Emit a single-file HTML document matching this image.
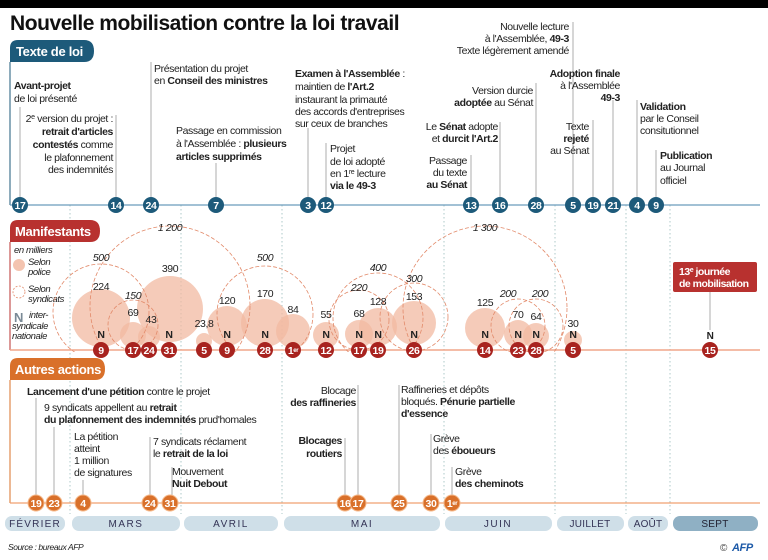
<!DOCTYPE html>
<html><head><meta charset="utf-8"><style>
html,body{margin:0;padding:0;background:#fff}
svg{display:block}
text{font-family:"Liberation Sans",sans-serif;font-size:10.5px;letter-spacing:-0.4px;fill:#222}
.b{font-weight:bold}
.i{font-style:italic}
.w{fill:#fff;font-weight:bold}
</style></head><body>
<svg width="768" height="560" viewBox="0 0 768 560" xmlns="http://www.w3.org/2000/svg">
<defs><clipPath id="cl"><rect x="0" y="215" width="768" height="137"/></clipPath></defs>
<rect x="0" y="0" width="768" height="8" fill="#000"/>
<text x="10" y="30" style="font-size:21px;font-weight:bold;fill:#111;letter-spacing:-0.45px">Nouvelle mobilisation contre la loi travail</text>

<g stroke="#9bb" stroke-width="0.8" stroke-dasharray="1.5,2.5">
<line x1="70" y1="205" x2="70" y2="514"/><line x1="181" y1="205" x2="181" y2="514"/><line x1="282" y1="205" x2="282" y2="514"/><line x1="444" y1="205" x2="444" y2="514"/><line x1="555" y1="205" x2="555" y2="514"/><line x1="626" y1="205" x2="626" y2="514"/><line x1="670" y1="205" x2="670" y2="514"/>
</g>

<path d="M10 62 L10 48 Q10 40 18 40 L84 40 Q94 40 94 51 Q94 62 84 62 Z" fill="#1d5a7a"/>
<text x="16" y="56" class="w" style="font-size:13px;letter-spacing:-0.3px">Texte de loi</text>
<line x1="10" y1="62" x2="10" y2="205" stroke="#1d5a7a" stroke-width="1"/>
<line x1="10" y1="205" x2="760" y2="205" stroke="#6a9cbc" stroke-width="1.2"/>
<g stroke="#999" stroke-width="0.8">
<line x1="20" y1="107" x2="20" y2="197"/><line x1="116" y1="115" x2="116" y2="197"/><line x1="151" y1="62" x2="151" y2="197"/><line x1="216" y1="163" x2="216" y2="197"/><line x1="308" y1="128" x2="308" y2="197"/><line x1="326" y1="143" x2="326" y2="197"/><line x1="573" y1="22" x2="573" y2="197"/><line x1="536" y1="83" x2="536" y2="197"/><line x1="613" y1="100" x2="613" y2="197"/><line x1="500" y1="122" x2="500" y2="197"/><line x1="471" y1="155" x2="471" y2="197"/><line x1="593" y1="120" x2="593" y2="197"/><line x1="637" y1="100" x2="637" y2="197"/><line x1="656" y1="150" x2="656" y2="197"/>
</g>
<text x="14" y="89" class="b">Avant-projet</text><text x="14" y="102">de loi présenté</text>
<g text-anchor="end">
<text x="113" y="122">2<tspan font-size="7" dy="-3">e</tspan><tspan dy="3"> version du projet :</tspan></text>
<text x="113" y="135" class="b">retrait d'articles</text>
<text x="113" y="148"><tspan class="b">contestés</tspan> comme</text>
<text x="113" y="161">le plafonnement</text>
<text x="113" y="173">des indemnités</text>
</g>
<text x="154" y="72">Présentation du projet</text><text x="154" y="84">en <tspan class="b">Conseil des ministres</tspan></text>
<text x="176" y="134">Passage en commission</text><text x="176" y="147">à l'Assemblée : <tspan class="b">plusieurs</tspan></text><text x="176" y="160" class="b">articles supprimés</text>
<text x="295" y="77"><tspan class="b">Examen à l'Assemblée</tspan> :</text><text x="295" y="90">maintien de <tspan class="b">l'Art.2</tspan></text><text x="295" y="103">instaurant la primauté</text><text x="295" y="115">des accords d'entreprises</text><text x="295" y="127">sur ceux de branches</text>
<text x="330" y="152">Projet</text><text x="330" y="165">de loi adopté</text><text x="330" y="177">en 1<tspan font-size="7" dy="-3">re</tspan><tspan dy="3"> lecture</tspan></text><text x="330" y="189" class="b">via le 49-3</text>
<g text-anchor="end">
<text x="569" y="30">Nouvelle lecture</text><text x="569" y="42">à l'Assemblée, <tspan class="b">49-3</tspan></text><text x="569" y="54">Texte légèrement amendé</text>
<text x="533" y="94">Version durcie</text><text x="533" y="106"><tspan class="b">adoptée</tspan> au Sénat</text>
<text x="620" y="77" class="b">Adoption finale</text><text x="620" y="89">à l'Assemblée</text><text x="620" y="101" class="b">49-3</text>
<text x="498" y="130">Le <tspan class="b">Sénat</tspan> adopte</text><text x="498" y="142">et <tspan class="b">durcit l'Art.2</tspan></text>
<text x="467" y="164">Passage</text><text x="467" y="176">du texte</text><text x="467" y="188" class="b">au Sénat</text>
<text x="589" y="130">Texte</text><text x="589" y="142" class="b">rejeté</text><text x="589" y="154">au Sénat</text>
</g>
<text x="640" y="110" class="b">Validation</text><text x="640" y="122">par le Conseil</text><text x="640" y="134">consitutionnel</text>
<text x="660" y="159" class="b">Publication</text><text x="660" y="171">au Journal</text><text x="660" y="184">officiel</text>
<g fill="#1d5a7a">
<circle cx="20" cy="205" r="8"/><circle cx="116" cy="205" r="8"/><circle cx="151" cy="205" r="8"/><circle cx="216" cy="205" r="8"/><circle cx="308" cy="205" r="8"/><circle cx="326" cy="205" r="8"/><circle cx="471" cy="205" r="8"/><circle cx="500" cy="205" r="8"/><circle cx="536" cy="205" r="8"/><circle cx="573" cy="205" r="8"/><circle cx="593" cy="205" r="8"/><circle cx="613" cy="205" r="8"/><circle cx="637" cy="205" r="8"/><circle cx="656" cy="205" r="8"/>
</g>
<g text-anchor="middle">
<text x="20" y="209" class="w" font-size="9">17</text><text x="116" y="209" class="w" font-size="9">14</text><text x="151" y="209" class="w" font-size="9">24</text><text x="216" y="209" class="w" font-size="9">7</text><text x="308" y="209" class="w" font-size="9">3</text><text x="326" y="209" class="w" font-size="9">12</text><text x="471" y="209" class="w" font-size="9">13</text><text x="500" y="209" class="w" font-size="9">16</text><text x="536" y="209" class="w" font-size="9">28</text><text x="573" y="209" class="w" font-size="9">5</text><text x="593" y="209" class="w" font-size="9">19</text><text x="613" y="209" class="w" font-size="9">21</text><text x="637" y="209" class="w" font-size="9">4</text><text x="656" y="209" class="w" font-size="9">9</text>
</g>

<path d="M10 242 L10 228 Q10 220 18 220 L90 220 Q100 220 100 231 Q100 242 90 242 Z" fill="#b8312f"/>
<text x="15" y="236" class="w" style="font-size:13px;letter-spacing:-0.3px">Manifestants</text>
<line x1="10" y1="242" x2="10" y2="350" stroke="#b8312f" stroke-width="1"/>
<line x1="10" y1="350" x2="760" y2="350" stroke="#f0a58a" stroke-width="1.5"/>
<text x="14" y="253" class="i" style="font-size:9.5px">en milliers</text>
<circle cx="19" cy="265" r="6" fill="#f4c4b0"/>
<text x="28" y="265" class="i" style="font-size:9.5px">Selon</text><text x="28" y="275" class="i" style="font-size:9.5px">police</text>
<circle cx="19" cy="292" r="6" fill="none" stroke="#e28a6a" stroke-width="0.8" stroke-dasharray="2,1.5"/>
<text x="28" y="292" class="i" style="font-size:9.5px">Selon</text><text x="28" y="302" class="i" style="font-size:9.5px">syndicats</text>
<text x="14" y="322" class="b" style="font-size:13px;fill:#7a8a96">N</text>
<text x="29" y="318" class="i" style="font-size:9.5px">inter-</text><text x="12" y="329" class="i" style="font-size:9.5px">syndicale</text><text x="12" y="339" class="i" style="font-size:9.5px">nationale</text>

<g clip-path="url(#cl)">
<g fill="#f2b9a2" fill-opacity="0.75">
<circle cx="101" cy="318" r="29"/><circle cx="133" cy="335" r="13"/><circle cx="149" cy="337" r="11"/><circle cx="170" cy="309" r="33"/><circle cx="204" cy="341" r="8"/><circle cx="227" cy="326" r="20"/><circle cx="265" cy="323" r="24"/><circle cx="293" cy="331" r="17"/><circle cx="326" cy="335" r="13"/><circle cx="359" cy="334" r="14"/><circle cx="378" cy="327" r="19"/><circle cx="414" cy="323" r="22"/><circle cx="485" cy="328" r="20"/><circle cx="518" cy="334" r="14"/><circle cx="536" cy="336" r="13"/><circle cx="573" cy="340" r="9"/>
</g>
<g fill="none" stroke="#e28a6a" stroke-width="0.8" stroke-dasharray="4,2">
<circle cx="101" cy="312" r="48"/><circle cx="133" cy="325" r="25"/><circle cx="170" cy="306" r="80"/><circle cx="265" cy="314" r="48"/><circle cx="359" cy="320" r="30"/><circle cx="378" cy="318" r="45"/><circle cx="414" cy="317" r="34"/><circle cx="485" cy="308" r="82"/><circle cx="518" cy="326" r="27"/><circle cx="536" cy="326" r="27"/>
</g>
</g>
<g text-anchor="middle">
<text x="101" y="290">224</text><text x="133" y="316">69</text><text x="151" y="323">43</text><text x="170" y="272">390</text><text x="204" y="327">23,8</text><text x="227" y="304">120</text><text x="265" y="297">170</text><text x="293" y="313">84</text><text x="326" y="318">55</text><text x="359" y="317">68</text><text x="378" y="305">128</text><text x="414" y="300">153</text><text x="485" y="306">125</text><text x="518" y="318">70</text><text x="536" y="320">64</text><text x="573" y="327">30</text>
</g>
<g text-anchor="middle">
<text x="101" y="261" class="i">500</text><text x="133" y="299" class="i">150</text><text x="170" y="231" class="i">1 200</text><text x="265" y="261" class="i">500</text><text x="359" y="291" class="i">220</text><text x="378" y="271" class="i">400</text><text x="414" y="282" class="i">300</text><text x="485" y="231" class="i">1 300</text><text x="508" y="297" class="i">200</text><text x="540" y="297" class="i">200</text>
</g>
<g text-anchor="middle" class="b" style="font-size:12px;fill:#7a8a96">
<text x="101" y="338">N</text><text x="169" y="338">N</text><text x="227" y="338">N</text><text x="265" y="338">N</text><text x="326" y="338">N</text><text x="359" y="338">N</text><text x="378" y="338">N</text><text x="414" y="338">N</text><text x="485" y="338">N</text><text x="518" y="338">N</text><text x="536" y="338">N</text><text x="573" y="338">N</text><text x="710" y="339" style="font-size:10px">N</text>
</g>
<rect x="673" y="262" width="84" height="30" rx="2" fill="#b8312f"/>
<text x="679" y="275" class="w" style="font-size:10.5px;letter-spacing:-0.5px">13<tspan font-size="7" dy="-3">e</tspan><tspan dy="3"> journée</tspan></text>
<text x="679" y="287" class="w" style="font-size:10.5px;letter-spacing:-0.5px">de mobilisation</text>
<line x1="710" y1="292" x2="710" y2="330" stroke="#999" stroke-width="0.8"/>
<g fill="#a8231f">
<circle cx="101" cy="350" r="8"/><circle cx="133" cy="350" r="8"/><circle cx="149" cy="350" r="8"/><circle cx="169" cy="350" r="8"/><circle cx="204" cy="350" r="8"/><circle cx="227" cy="350" r="8"/><circle cx="265" cy="350" r="8"/><circle cx="293" cy="350" r="8"/><circle cx="326" cy="350" r="8"/><circle cx="359" cy="350" r="8"/><circle cx="378" cy="350" r="8"/><circle cx="414" cy="350" r="8"/><circle cx="485" cy="350" r="8"/><circle cx="518" cy="350" r="8"/><circle cx="536" cy="350" r="8"/><circle cx="573" cy="350" r="8"/><circle cx="710" cy="350" r="8"/>
</g>
<g text-anchor="middle">
<text x="101" y="354" class="w" font-size="9">9</text><text x="133" y="354" class="w" font-size="9">17</text><text x="149" y="354" class="w" font-size="9">24</text><text x="169" y="354" class="w" font-size="9">31</text><text x="204" y="354" class="w" font-size="9">5</text><text x="227" y="354" class="w" font-size="9">9</text><text x="265" y="354" class="w" font-size="9">28</text><text x="293" y="354" class="w" font-size="9">1<tspan font-size="6" dy="-2">er</tspan></text><text x="326" y="354" class="w" font-size="9">12</text><text x="359" y="354" class="w" font-size="9">17</text><text x="378" y="354" class="w" font-size="9">19</text><text x="414" y="354" class="w" font-size="9">26</text><text x="485" y="354" class="w" font-size="9">14</text><text x="518" y="354" class="w" font-size="9">23</text><text x="536" y="354" class="w" font-size="9">28</text><text x="573" y="354" class="w" font-size="9">5</text><text x="710" y="354" class="w" font-size="9">15</text>
</g>

<path d="M10 380 L10 366 Q10 358 18 358 L95 358 Q105 358 105 369 Q105 380 95 380 Z" fill="#d9702a"/>
<text x="15" y="374" class="w" style="font-size:13px;letter-spacing:-0.3px">Autres actions</text>
<line x1="10" y1="380" x2="10" y2="503" stroke="#d9702a" stroke-width="1"/>
<line x1="10" y1="503" x2="760" y2="503" stroke="#f0a070" stroke-width="1.2"/>
<g stroke="#999" stroke-width="0.8">
<line x1="36" y1="398" x2="36" y2="495"/><line x1="54" y1="427" x2="54" y2="495"/><line x1="83" y1="480" x2="83" y2="495"/><line x1="150" y1="437" x2="150" y2="495"/><line x1="172" y1="467" x2="172" y2="495"/><line x1="358" y1="385" x2="358" y2="495"/><line x1="345" y1="438" x2="345" y2="495"/><line x1="399" y1="385" x2="399" y2="495"/><line x1="431" y1="434" x2="431" y2="495"/><line x1="452" y1="467" x2="452" y2="495"/>
</g>
<text x="27" y="395"><tspan class="b">Lancement d'une pétition</tspan> contre le projet</text>
<text x="44" y="411">9 syndicats appellent au <tspan class="b">retrait</tspan></text>
<text x="44" y="423"><tspan class="b">du plafonnement des indemnités</tspan> prud'homales</text>
<text x="74" y="440">La pétition</text><text x="74" y="452">atteint</text><text x="74" y="464">1 million</text><text x="74" y="476">de signatures</text>
<text x="153" y="445">7 syndicats réclament</text><text x="153" y="457">le <tspan class="b">retrait de la loi</tspan></text>
<text x="172" y="475">Mouvement</text><text x="172" y="487" class="b">Nuit Debout</text>
<g text-anchor="end">
<text x="356" y="394">Blocage</text><text x="356" y="406" class="b">des raffineries</text>
<text x="342" y="444" class="b">Blocages</text><text x="342" y="457" class="b">routiers</text>
</g>
<text x="401" y="393">Raffineries et dépôts</text><text x="401" y="405">bloqués. <tspan class="b">Pénurie partielle</tspan></text><text x="401" y="417" class="b">d'essence</text>
<text x="433" y="442">Grève</text><text x="433" y="454">des <tspan class="b">éboueurs</tspan></text>
<text x="455" y="475">Grève</text><text x="455" y="487" class="b">des cheminots</text>
<g fill="#d9702a" stroke="#f4b88a" stroke-width="1">
<circle cx="36" cy="503" r="8"/><circle cx="54" cy="503" r="8"/><circle cx="83" cy="503" r="8"/><circle cx="150" cy="503" r="8"/><circle cx="170" cy="503" r="8"/><circle cx="345" cy="503" r="8"/><circle cx="358" cy="503" r="8"/><circle cx="399" cy="503" r="8"/><circle cx="431" cy="503" r="8"/><circle cx="452" cy="503" r="8"/>
</g>
<g text-anchor="middle">
<text x="36" y="507" class="w" font-size="9">19</text><text x="54" y="507" class="w" font-size="9">23</text><text x="83" y="507" class="w" font-size="9">4</text><text x="150" y="507" class="w" font-size="9">24</text><text x="170" y="507" class="w" font-size="9">31</text><text x="345" y="507" class="w" font-size="9">16</text><text x="358" y="507" class="w" font-size="9">17</text><text x="399" y="507" class="w" font-size="9">25</text><text x="431" y="507" class="w" font-size="9">30</text><text x="452" y="507" class="w" font-size="9">1<tspan font-size="6" dy="-2">er</tspan></text>
</g>

<g fill="#cfdfe8">
<rect x="5" y="516" width="60" height="15" rx="7"/><rect x="72" y="516" width="108" height="15" rx="7"/><rect x="184" y="516" width="94" height="15" rx="7"/><rect x="284" y="516" width="156" height="15" rx="7"/><rect x="445" y="516" width="107" height="15" rx="7"/><rect x="557" y="516" width="67" height="15" rx="7"/><rect x="628" y="516" width="40" height="15" rx="7"/>
</g>
<rect x="673" y="516" width="85" height="15" rx="7" fill="#8fb0c4"/>
<g text-anchor="middle">
<text x="35" y="527" style="fill:#335;font-size:10px;letter-spacing:1.2px">FÉVRIER</text><text x="126" y="527" style="fill:#335;font-size:10px;letter-spacing:1.5px">MARS</text><text x="231" y="527" style="fill:#335;font-size:10px;letter-spacing:1.5px">AVRIL</text><text x="362" y="527" style="fill:#335;font-size:10px;letter-spacing:1.5px">MAI</text><text x="498" y="527" style="fill:#335;font-size:10px;letter-spacing:1.5px">JUIN</text><text x="590" y="527" style="fill:#335;font-size:10px;letter-spacing:0.3px">JUILLET</text><text x="648" y="527" style="fill:#335;font-size:10px;letter-spacing:0.2px">AOÛT</text><text x="715" y="527" style="fill:#223;font-size:10px;letter-spacing:0.3px">SEPT</text>
</g>
<text x="8" y="550" class="i" style="font-size:8.5px">Source : bureaux AFP</text>
<text x="720" y="551" style="font-size:10px;fill:#444">©</text>
<text x="732" y="551" class="b i" style="font-size:11px;fill:#1d5aa8">AFP</text>
</svg>
</body></html>
